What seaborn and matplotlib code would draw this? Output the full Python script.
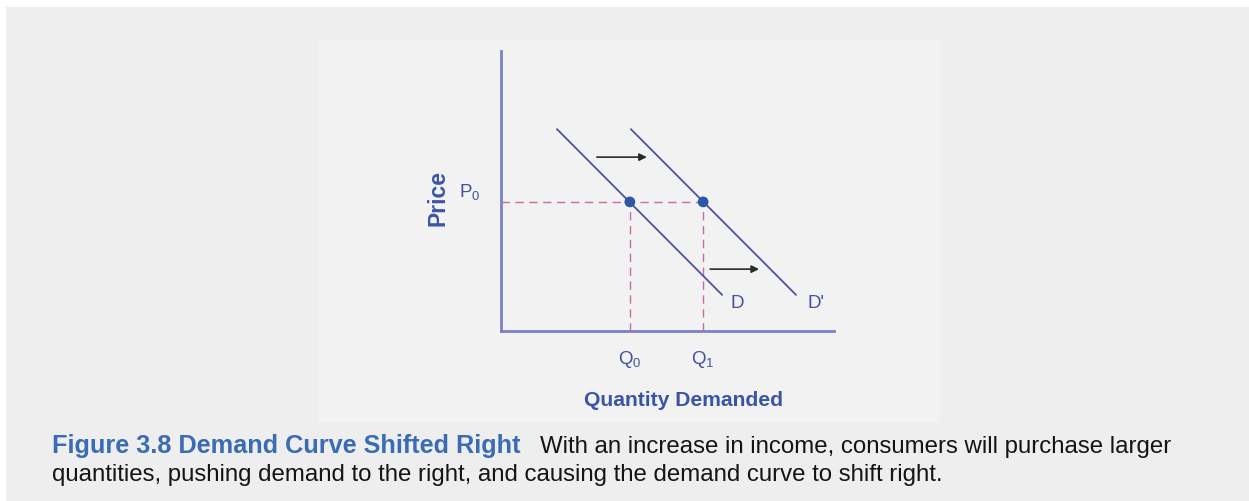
import numpy as np
import pandas as pd
import seaborn as sns
import matplotlib
import matplotlib.pyplot as plt
from matplotlib.patches import Rectangle
from matplotlib import font_manager

# ---------------- data ----------------
demand_q = [1.68, 6.64]          # original demand curve D (quantity)
demand_p = [7.21, 1.29]          # original demand curve D (price)
demand2_q = [3.90, 8.86]         # shifted demand curve D'
demand2_p = [7.21, 1.29]
price_p0 = 4.61
q0 = 3.87
q1 = 6.07
arrow_upper = [(2.88, 6.21), (4.38, 6.21)]
arrow_lower = [(6.28, 2.21), (7.75, 2.21)]
curve_labels = ["D", "D'"]
curve_label_pos = [(7.09, 1.0), (9.45, 1.0)]
x_tick_labels = [r"$\mathrm{Q}_\mathrm{0}$", r"$\mathrm{Q}_\mathrm{1}$"]
y_tick_labels = [r"$\mathrm{P}_\mathrm{0}$"]
x_label = "Quantity Demanded"
y_label = "Price"
caption_bold = "Figure 3.8 Demand Curve Shifted Right"
caption_line1 = "With an increase in income, consumers will purchase larger"
caption_line2 = "quantities, pushing demand to the right, and causing the demand curve to shift right."

# ---------------- style ----------------
sns.set_theme(style="white")
names = {f.name for f in font_manager.fontManager.ttflist}
base_font = "Liberation Sans" if "Liberation Sans" in names else "DejaVu Sans"
narrow_font = "Liberation Sans Narrow" if "Liberation Sans Narrow" in names else base_font
plt.rcParams["font.family"] = [base_font, "DejaVu Sans"]
plt.rcParams["mathtext.fontset"] = "custom"
plt.rcParams["mathtext.rm"] = narrow_font
plt.rcParams["mathtext.it"] = narrow_font + ":italic"
plt.rcParams["mathtext.bf"] = narrow_font + ":bold"

W, H = 1249, 501
fig = plt.figure(figsize=(W / 100, H / 100), dpi=100, facecolor="white")

# background panels
fig.add_artist(Rectangle((6 / W, 0), (W - 6) / W, (H - 7) / H, transform=fig.transFigure,
                         facecolor="#eeeeee", edgecolor="none", zorder=-10))
fig.add_artist(Rectangle((318 / W, (H - 423) / H), (940 - 318) / W, (423 - 40) / H,
                         transform=fig.transFigure, facecolor="#f2f2f2", edgecolor="none", zorder=-9))

ax = fig.add_axes([501 / W, (H - 331) / H, 333 / W, 280 / H])
ax.set_facecolor("none")
ax.set_xlim(0, 10)
ax.set_ylim(0, 10)

axis_color = "#7b80c8"
line_color = "#4d52a2"
dash_color = "#c86aa8"
dot_color = "#2b57a8"
label_color = "#45509f"
title_blue = "#3a55a6"

for s in ["top", "right"]:
    ax.spines[s].set_visible(False)
for s in ["left", "bottom"]:
    ax.spines[s].set_color(axis_color)
    ax.spines[s].set_linewidth(2)

# dashed guide lines
ax.plot([0, q1], [price_p0, price_p0], color=dash_color, lw=1, dashes=(6, 4), zorder=2)
for q in (q0, q1):
    ax.plot([q, q], [0, price_p0], color=dash_color, lw=1, dashes=(6, 4), zorder=2)

# demand curves
df = pd.DataFrame({
    "q": demand_q + demand2_q,
    "p": demand_p + demand2_p,
    "curve": ["D"] * 2 + ["D'"] * 2,
})
sns.lineplot(data=df, x="q", y="p", units="curve", estimator=None, sort=False,
             color=line_color, lw=1.3, ax=ax, zorder=3)

# equilibrium dots
pts = pd.DataFrame({"q": [q0, q1], "p": [price_p0, price_p0]})
sns.scatterplot(data=pts, x="q", y="p", color=dot_color, s=60, edgecolor="none", ax=ax, zorder=4)

# arrows
for start, end in (arrow_upper, arrow_lower):
    ax.annotate("", xy=end, xytext=start,
                arrowprops=dict(arrowstyle="-|>", color="#2b2b2b", lw=1.2,
                                mutation_scale=11, shrinkA=0, shrinkB=0))

# curve labels
for txt, (x, y) in zip(curve_labels, curve_label_pos):
    ax.text(x, y, txt, ha="center", va="center", fontsize=13.5, color=label_color,
            family=[narrow_font, "DejaVu Sans"])

# ticks
ax.set_xticks([q0, q1])
ax.set_xticklabels(x_tick_labels)
ax.set_yticks([price_p0])
ax.set_yticklabels(y_tick_labels)
ax.tick_params(axis="x", length=0, pad=13, labelsize=13.5, labelcolor=label_color)
ax.tick_params(axis="y", length=0, pad=15, labelsize=13.5, labelcolor=label_color)
plt.setp(ax.get_yticklabels(), va="bottom")

# axis labels
ax.set_xlabel(x_label, fontsize=15.2, fontweight="bold", color=title_blue)
ax.xaxis.set_label_coords((683 - 501) / 333, (331 - 400) / 280)
ax.xaxis.label.set_va("center")
ax.set_ylabel(y_label, fontsize=16.5, fontweight="bold", color=title_blue)
ax.yaxis.set_label_coords((438 - 501) / 333, (331 - 198) / 280)
ax.yaxis.label.set_va("center")

# caption
y1 = (H - 453) / H
y2 = (H - 481.5) / H
t1 = fig.text(52 / W, y1, caption_bold, fontsize=18.2, fontweight="bold", color="#3a6bb5",
              ha="left", va="baseline")
fig.canvas.draw()
bb = t1.get_window_extent(fig.canvas.get_renderer())
fig.text((bb.x1 + 20) / W, y1, caption_line1, fontsize=17.3, color="#141414", ha="left", va="baseline")
fig.text(52 / W, y2, caption_line2, fontsize=17.3, color="#141414", ha="left", va="baseline")

fig.savefig("out.png", dpi=100, facecolor=fig.get_facecolor())
